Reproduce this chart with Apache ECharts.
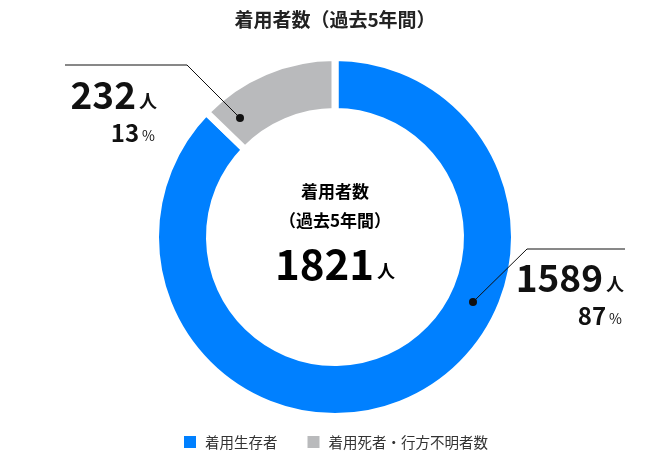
<!DOCTYPE html>
<html>
<head>
<meta charset="utf-8">
<script src="https://cdn.jsdelivr.net/npm/echarts@6/dist/echarts.min.js"></script>
<style>
html,body{margin:0;padding:0;background:#fff;}
#main{width:670px;height:461px;}
</style>
</head>
<body>
<div id="main"></div>
<script>
// ---- data ----
const titleText = '着用者数（過去5年間）';
const centerLabel = ['着用者数', '（過去5年間）'];
const categories = ['着用生存者', '着用死者・行方不明者数'];
const values = [1589, 232];
const unitLabel = '人';
const colors = ['#0080ff', '#b9babc'];

// ---- layout (positions only) ----
const CX = 335, CY = 237;
const FONT = '"Noto Sans CJK JP", "Noto Sans", sans-serif';
// leader line anchor (dot), elbow, end; label right edge / top
const leader = [
  { dot: [473, 302], elbow: [527, 249], end: [625, 249], lx: 624, ly: 257 },
  { dot: [240, 118], elbow: [187, 65], end: [65, 65], lx: 157, ly: 74 }
];

const total = values.reduce((a, b) => a + b, 0);

const chart = echarts.init(document.getElementById('main'), null, { renderer: 'canvas' });

const option = {
  backgroundColor: '#fff',
  animation: false,
  title: {
    text: titleText,
    left: 'center',
    top: 5,
    textStyle: { fontFamily: FONT, fontSize: 19, fontWeight: 'bold', color: '#222' }
  },
  legend: {
    bottom: 6,
    left: 'center',
    itemWidth: 14,
    itemHeight: 14,
    itemGap: 28,
    icon: 'rect',
    textStyle: { fontFamily: FONT, fontSize: 14.5, color: '#333', padding: [0, 0, 0, 3] },
    data: categories
  },
  color: colors,
  series: [{
    type: 'pie',
    center: [CX, CY],
    radius: [125.5, 179.5],
    startAngle: 90,
    clockwise: true,
    avoidLabelOverlap: false,
    itemStyle: { borderColor: '#fff', borderWidth: 7 },
    emphasis: { disabled: true },
    label: {
      show: true,
      position: 'outside',
      align: 'right',
      fontFamily: FONT,
      formatter: function (p) {
        const pct = Math.round(p.value / total * 100);
        return '{num|' + p.value + '}{unit|' + unitLabel + '}\n{pct|' + pct + '}{pu|%}';
      },
      rich: {
        num: { fontFamily: FONT, fontSize: 37, fontWeight: 'bold', color: '#111', lineHeight: 42, align: 'right' },
        unit: { fontFamily: FONT, fontSize: 18, fontWeight: 'bold', color: '#111', lineHeight: 42, padding: [12, 0, 0, 3], align: 'right' },
        pct: { fontFamily: FONT, fontSize: 24, fontWeight: 'bold', color: '#111', lineHeight: 34, align: 'right' },
        pu: { fontFamily: FONT, fontSize: 14, fontWeight: 'normal', color: '#111', lineHeight: 34, padding: [6, 2, 0, 3], align: 'right' }
      }
    },
    labelLine: { show: false },
    labelLayout: function (params) {
      const L = leader[params.dataIndex];
      return { x: L.lx, y: L.ly, align: 'right', verticalAlign: 'top' };
    },
    data: categories.map((c, i) => ({ name: c, value: values[i] }))
  }],
  graphic: [
    {
      type: 'text',
      left: 'center',
      top: 183,
      style: {
        text: '{a|' + centerLabel[0] + '}\n{a|' + centerLabel[1] + '}\n{n|' + total + '}{u|' + unitLabel + '}',
        align: 'center',
        fontFamily: FONT,
        rich: {
          a: { fontFamily: FONT, fontSize: 17, fontWeight: 'bold', color: '#222', lineHeight: 29, align: 'center' },
          n: { fontFamily: FONT, fontSize: 42, fontWeight: 'bold', color: '#111', lineHeight: 58 },
          u: { fontFamily: FONT, fontSize: 18, fontWeight: 'bold', color: '#111', lineHeight: 58, padding: [14, 0, 0, 3] }
        }
      }
    }
  ].concat(leader.map(L => ({
    type: 'polyline',
    shape: { points: [L.dot, L.elbow, L.end] },
    style: { stroke: '#111', lineWidth: 1, fill: null },
    z: 100
  }))).concat(leader.map(L => ({
    type: 'circle',
    shape: { cx: L.dot[0], cy: L.dot[1], r: 4 },
    style: { fill: '#111' },
    z: 101
  })))
};

chart.setOption(option);
</script>
</body>
</html>
